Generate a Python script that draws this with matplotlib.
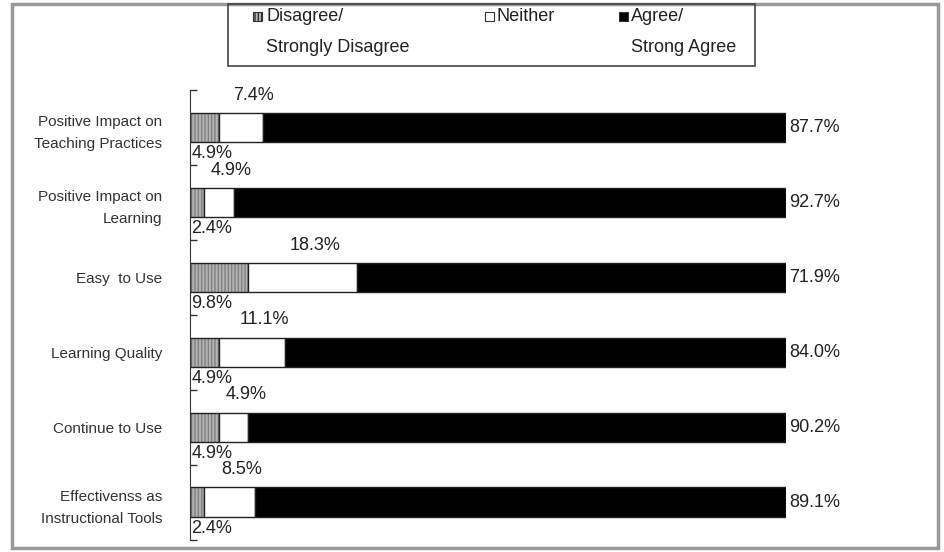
import matplotlib
matplotlib.use('Agg')
import matplotlib.pyplot as plt
import numpy as np
from matplotlib.patches import Rectangle

plt.rcParams['font.family'] = ['Liberation Sans', 'DejaVu Sans']

# survey data (percent)
categories = ["Positive Impact on\nTeaching Practices",
              "Positive Impact on\nLearning",
              "Easy  to Use",
              "Learning Quality",
              "Continue to Use",
              "Effectivenss as\nInstructional Tools"]
disagree = [4.9, 2.4, 9.8, 4.9, 4.9, 2.4]
neither = [7.4, 4.9, 18.3, 11.1, 4.9, 8.5]
agree = [87.7, 92.7, 71.9, 84.0, 90.2, 89.1]
legend_labels = ["Disagree/\nStrongly Disagree", "Neither", "Agree/\nStrong Agree"]

W, H = 944, 552
fig = plt.figure(figsize=(W / 100, H / 100), dpi=100)
ax = fig.add_axes([190 / W, 12.5 / H, 596 / W, 449.5 / H])

y = np.arange(len(categories))
d = np.array(disagree)
n = np.array(neither)
a = np.array(agree)
h = 0.39
txt = '#222222'

# disagree: grey with vertical hatch, drawn then outlined
ax.barh(y, d, height=h, color='#b4b4b4', edgecolor='#808080', hatch='|||||', linewidth=0)
ax.barh(y, d, height=h, fill=False, edgecolor='#222222', linewidth=1)
ax.barh(y, n, left=d, height=h, color='white', edgecolor='#222222', linewidth=1)
ax.barh(y, a, left=d + n, height=h, color='black', edgecolor='#222222', linewidth=1)

for i in range(len(categories)):
    ax.text(d[i] + n[i] / 2 + 2.0, y[i] - 0.43, f'{n[i]:.1f}%', ha='center', va='center',
            fontsize=13, color=txt)
    ax.text(0.2, y[i] + 0.35, f'{d[i]:.1f}%', ha='left', va='center',
            fontsize=13, color=txt)
    ax.text(100.5, y[i], f'{a[i]:.1f}%', ha='left', va='center',
            fontsize=13, color=txt)

ax.set_xlim(0, 100)
ax.set_ylim(len(categories) - 0.5, -0.5)
ax.set_yticks(y)
ax.set_yticklabels(categories, fontsize=11, color='#333333', linespacing=1.75)
ax.tick_params(axis='y', which='major', length=0, pad=20)
ax.set_yticks(np.arange(len(categories) + 1) - 0.5, minor=True)
ax.tick_params(axis='y', which='minor', direction='in', length=5, width=1, color='#333333')
ax.set_xticks([])
for s in ['top', 'right', 'bottom']:
    ax.spines[s].set_visible(False)
ax.spines['left'].set_color('#333333')

# outer frame
fig.patches.append(Rectangle((12 / W, 4 / H), 926 / W, 544 / H, transform=fig.transFigure,
                             fill=False, edgecolor='#999999', linewidth=2.5))

# legend box drawn by hand
fig.patches.append(Rectangle((228 / W, 1 - 66 / H), 527 / W, 62 / H, transform=fig.transFigure,
                             fill=False, edgecolor='#444444', linewidth=1.2))
leg_x = [258, 489, 623]
leg_face = ['#b4b4b4', 'white', 'black']
leg_hatch = ['|||||', None, None]
for lx, fc, hc, lab in zip(leg_x, leg_face, leg_hatch, legend_labels):
    fig.patches.append(Rectangle(((lx - 4.5) / W, 1 - 21 / H), 9 / W, 9 / H,
                                 transform=fig.transFigure, facecolor=fc, hatch=hc,
                                 edgecolor='#333333', linewidth=0.8))
    fig.text((lx + 8) / W, 1 - 8 / H, lab, ha='left', va='top', fontsize=13,
             color=txt, linespacing=2.05)

fig.savefig('out.png', dpi=100)
